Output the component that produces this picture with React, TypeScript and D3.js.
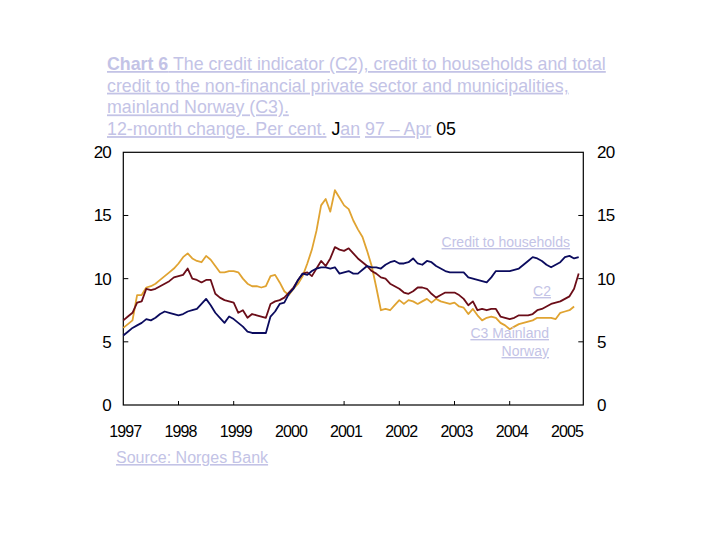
import { useEffect, useRef } from 'react';
import * as d3 from 'd3';

// Monthly 12-month growth, Jan 1997 (index 0) to Apr 2005 (index 99)
const households = [
  5.5, 5.8, 6.1, 6.3, 6.5, 6.8, 6.7, 6.9, 7.2, 7.4, 7.3, 7.2,
  7.1, 7.2, 7.4, 7.5, 7.6, 8.0, 8.4, 7.9, 7.3, 6.9, 6.5, 7.0,
  6.8, 6.5, 6.2, 5.8, 5.7, 5.7, 5.7, 5.7, 7.0, 7.4, 8.0, 8.1,
  8.8, 9.2, 9.9, 10.4, 10.3, 10.6, 10.8, 10.9, 10.9, 10.8, 10.9, 10.4,
  10.5, 10.6, 10.4, 10.4, 10.7, 11.0, 10.9, 10.9, 10.8, 11.1, 11.3, 11.4,
  11.2, 11.2, 11.3, 11.6, 11.2, 11.1, 11.4, 11.3, 11.0, 10.8, 10.6, 10.5,
  10.5, 10.5, 10.5, 10.1, 10.0, 9.9, 9.8, 9.7, 10.1, 10.6, 10.6, 10.6,
  10.6, 10.7, 10.8, 11.1, 11.4, 11.7, 11.6, 11.4, 11.1, 10.9, 11.1, 11.3,
  11.7, 11.8, 11.6, 11.7,
];

const c2 = [
  6.7, 7.0, 7.3, 8.1, 8.2, 9.2, 9.1, 9.2, 9.4, 9.6, 9.8, 10.1,
  10.2, 10.3, 10.8, 10.0, 9.9, 9.7, 9.9, 9.9, 8.8, 8.5, 8.3, 8.2,
  8.1, 7.3, 7.5, 6.9, 7.2, 7.1, 7.0, 6.9, 8.0, 8.2, 8.3, 8.5,
  8.9, 9.3, 9.9, 10.4, 10.5, 10.2, 10.8, 11.4, 11.0, 11.6, 12.5, 12.3,
  12.2, 12.4, 12.0, 11.6, 11.3, 11.0, 10.6, 10.4, 10.1, 10.0, 9.6, 9.4,
  9.2, 8.9, 8.8, 9.0, 9.3, 9.3, 9.2, 8.8, 8.5, 8.7, 8.9, 8.9,
  8.9, 8.7, 8.4, 7.9, 8.2, 7.5, 7.6, 7.5, 7.6, 7.6, 7.0, 6.9,
  6.8, 6.9, 7.1, 7.1, 7.1, 7.2, 7.5, 7.6, 7.8, 8.0, 8.1, 8.2,
  8.4, 8.6, 9.2, 10.4,
];

// C3 ends one month earlier (Mar 2005)
const c3 = [
  6.1, 6.4, 6.7, 8.7, 8.7, 9.3, 9.4, 9.6, 9.9, 10.2, 10.5, 10.8,
  11.2, 11.7, 12.0, 11.6, 11.4, 11.3, 11.8, 11.5, 11.0, 10.5, 10.5, 10.6,
  10.6, 10.5, 10.0, 9.6, 9.4, 9.4, 9.3, 9.4, 10.2, 10.3, 9.7, 9.0,
  8.7, 9.2, 9.6, 10.2, 11.2, 12.3, 13.8, 15.8, 16.3, 15.3, 17.0, 16.4,
  15.8, 15.5, 14.6, 13.9, 13.3, 12.2, 11.0, 9.3, 7.5, 7.6, 7.5, 7.9,
  8.3, 8.0, 8.3, 8.2, 8.0, 8.2, 8.4, 8.1, 8.4, 8.2, 8.1, 8.0,
  8.1, 7.8, 7.7, 7.2, 7.6, 7.1, 6.7, 6.9, 7.0, 6.9, 6.5, 6.3,
  6.0, 6.2, 6.4, 6.5, 6.6, 6.7, 6.9, 6.9, 6.9, 6.9, 6.8, 7.3,
  7.4, 7.5, 7.8,
];

const yearLabels = ['1997', '1998', '1999', '2000', '2001', '2002', '2003', '2004', '2005'];
const tickYears = ['1998', '1999', '2001', '2002', '2003', '2004'];
const yTicks = [0, 5, 10, 15, 20];

const LAV = '#c3c3e6';

export default function App() {
  const svgRef = useRef<SVGSVGElement>(null);

  useEffect(() => {
    if (!svgRef.current) return;
    const svg = d3.select(svgRef.current);
    svg.selectAll('*').remove();

    const left = 123.3;
    const right = 583.3;
    const top = 152.3;
    const bottom = 405;

    const x = d3.scaleLinear().domain([0, 100]).range([left, right]);
    const y = d3.scaleLinear().domain([0, 20]).range([bottom, top]);
    const yearX = (label: string) => x((+label - 1997) * 12);

    const font = 'Liberation Sans, Arial, sans-serif';

    // Title
    const titleLines: { text: string; color: string; bold?: boolean; underline?: boolean }[][] = [
      [
        { text: 'Chart 6', color: LAV, bold: true, underline: true },
        { text: ' The credit indicator (C2), credit to households and total', color: LAV, underline: true },
      ],
      [{ text: 'credit to the non-financial private sector and municipalities,', color: LAV, underline: true }],
      [{ text: 'mainland Norway (C3).', color: LAV, underline: true }],
      [
        { text: '12-month change. Per cent.', color: LAV, underline: true },
        { text: ' J', color: '#000' },
        { text: 'an', color: LAV, underline: true },
        { text: ' ', color: '#000' },
        { text: '97 \u2013 Apr', color: LAV, underline: true },
        { text: ' 05', color: '#000' },
      ],
    ];
    titleLines.forEach((parts, i) => {
      const t = svg.append('text')
        .attr('x', 107)
        .attr('y', 70 + i * 21.7)
        .style('font-family', font)
        .style('font-size', '17.8px');
      parts.forEach(p => {
        t.append('tspan')
          .attr('fill', p.color)
          .style('font-weight', p.bold ? 'bold' : 'normal')
          .style('text-decoration', p.underline ? 'underline' : 'none')
          .style('white-space', 'pre')
          .text(p.text);
      });
    });

    // Frame
    svg.append('rect')
      .attr('x', left)
      .attr('y', top)
      .attr('width', right - left)
      .attr('height', bottom - top)
      .attr('fill', 'none')
      .attr('stroke', '#000')
      .attr('stroke-width', 1.2);

    // Y ticks (inside) and labels on both sides
    yTicks.forEach(v => {
      if (v > 0 && v < 20) {
        svg.append('line')
          .attr('x1', left).attr('x2', left + 5)
          .attr('y1', y(v)).attr('y2', y(v))
          .attr('stroke', '#000');
        svg.append('line')
          .attr('x1', right - 5).attr('x2', right)
          .attr('y1', y(v)).attr('y2', y(v))
          .attr('stroke', '#000');
      }
      svg.append('text')
        .attr('x', 111)
        .attr('y', y(v) + 6)
        .attr('text-anchor', 'end')
        .style('font-family', font)
        .style('font-size', '17px')
        .style('letter-spacing', '-0.8px')
        .text(v);
      svg.append('text')
        .attr('x', 597)
        .attr('y', y(v) + 6)
        .style('font-family', font)
        .style('font-size', '17px')
        .style('letter-spacing', '-0.8px')
        .text(v);
    });

    // X ticks (inside)
    tickYears.forEach(yr => {
      svg.append('line')
        .attr('x1', yearX(yr)).attr('x2', yearX(yr))
        .attr('y1', bottom).attr('y2', bottom - 4)
        .attr('stroke', '#000');
    });

    yearLabels.forEach(yr => {
      svg.append('text')
        .attr('x', yearX(yr) + 2)
        .attr('y', 437)
        .attr('text-anchor', 'middle')
        .style('font-family', font)
        .style('font-size', '16px')
        .style('letter-spacing', '-0.9px')
        .text(yr);
    });

    // Lines
    const line = d3.line<number>()
      .x((_, i) => x(i))
      .y(d => y(d));

    const series = [
      { data: c3, color: '#e0a331' },
      { data: c2, color: '#6b0d18' },
      { data: households, color: '#0b0b5e' },
    ];
    series.forEach(s => {
      svg.append('path')
        .datum(s.data)
        .attr('d', line)
        .attr('fill', 'none')
        .attr('stroke', s.color)
        .attr('stroke-width', 1.8)
        .attr('stroke-linejoin', 'round');
    });

    // Series labels
    const labels = [
      { text: 'Credit to households', x: 570, y: 247 },
      { text: 'C2', x: 551, y: 296 },
      { text: 'C3 Mainland', x: 549, y: 338 },
      { text: 'Norway', x: 549, y: 356 },
    ];
    labels.forEach(l => {
      svg.append('text')
        .attr('x', l.x)
        .attr('y', l.y)
        .attr('text-anchor', 'end')
        .attr('fill', LAV)
        .style('font-family', font)
        .style('font-size', '14px')
        .style('text-decoration', 'underline')
        .text(l.text);
    });

    // Source
    svg.append('text')
      .attr('x', 116)
      .attr('y', 463)
      .attr('fill', LAV)
      .style('font-family', font)
      .style('font-size', '16px')
      .style('text-decoration', 'underline')
      .text('Source: Norges Bank');
  }, []);

  return (
    <div style={{ position: 'absolute', left: 0, top: 0, width: 720, height: 540, background: '#fff' }}>
      <svg ref={svgRef} width={720} height={540} style={{ display: 'block' }} />
    </div>
  );
}
